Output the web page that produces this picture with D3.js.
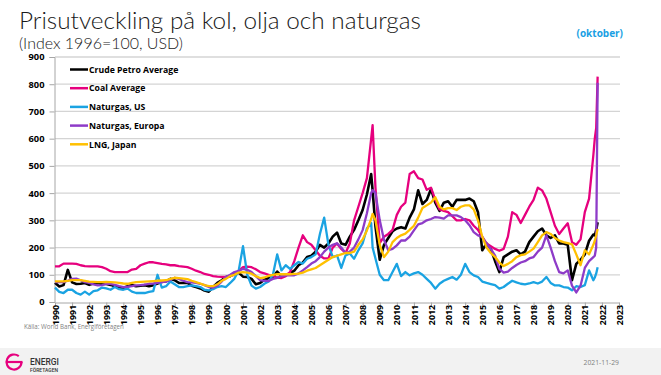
<!DOCTYPE html>
<html><head><meta charset="utf-8">
<script src="https://cdn.jsdelivr.net/npm/d3@7"></script>
<style>
body{margin:0;background:#fff;}
svg{display:block;}
</style></head>
<body>
<svg id="chart" width="661" height="375"></svg>
<script>
// ---------- DATA ----------
const yearTicks = d3.range(1990, 2024);
const yTicks = [0,100,200,300,400,500,600,700,800,900];
// sampling: quarterly (Jan, Apr, Jul, Oct) + Aug 2008, Aug & Sep 2021
const seriesNames = ["Crude Petro Average","Coal Average","Naturgas, US","Naturgas, Europa","LNG, Japan"];
const seriesColors = ["#000000","#e6007e","#1aa3e2","#8e3bc8","#ffc000"];

const crude = [
 71,57,62,118, 72,66,67,70, 63,68,70,66, 66,63,58,52, 52,58,62,58, 60,62,58,62,
 68,74,76,85, 80,70,70,70, 60,55,50,42, 38,55,70,80, 92,95,105,108, 93,92,85,65,
 70,82,88,92, 112,95,100,105, 115,135,145,165, 170,185,210,200, 215,240,255,215,
 210,240,265,300, 338,395,470,410,277, 155,210,235,260, 270,275,270,310,
 340,410,360,375, 415,365,335,365, 370,350,375,375, 375,380,370,330,
 190,215,195,150, 110,165,175,185, 190,175,185,220, 240,260,270,245,
 235,245,215,215, 210,80,140,155, 175,225,248,245,264,293];
const coal = [
 131,131,141,141, 141,140,135,132, 131,131,131,128, 122,113,110,110, 110,110,119,122,
 135,141,146,146, 143,140,138,135, 135,132,130,128, 122,115,110,103, 100,95,93,92,
 92,95,100,115, 128,130,128,120, 110,105,100,95, 90,88,95,110, 150,200,245,220,
 210,190,170,160, 160,200,215,195, 180,215,300,350, 400,455,600,650,420,
 216,240,250,265, 320,350,365,470, 480,455,450,412, 420,375,340,335,
 330,315,300,300, 305,300,280,265, 239,215,205,195, 188,195,240,330,
 320,290,320,350, 375,420,410,380, 330,280,250,270, 289,220,210,230,
 330,380,540,600,640,828];
const gasUS = [
 53,37,33,45, 45,33,27,38, 27,40,43,53, 50,45,55,47, 45,49,38,33, 33,33,37,40,
 100,53,58,75, 65,55,55,58, 61,58,55,45, 43,47,55,58, 55,70,86,116, 205,100,60,49,
 55,67,75,100, 175,116,135,122, 135,147,141,159, 165,175,250,310, 210,165,171,125,
 171,178,159,190, 215,270,290,200,160, 100,80,80,110, 140,95,110,98,
 105,110,100,85, 70,49,67,78, 85,92,82,100, 140,110,98,92,
 75,70,66,62, 49,55,67,78, 72,67,65,68, 73,68,75,92,
 70,61,61,55, 53,43,58,55, 62,116,80,90,105,128];
const gasEU = [
 73,73,73,78, 85,86,80,73, 70,65,61,62, 67,67,63,58, 55,56,58,61, 62,64,67,68,
 70,73,75,82, 89,85,78,73, 72,70,67,62, 55,53,60,75, 92,100,110,114, 122,118,110,95,
 80,78,77,85, 89,95,98,98, 98,105,116,128, 141,150,165,185, 200,210,216,200,
 180,185,200,230, 264,326,400,411,400, 301,228,190,195, 208,226,226,240,
 263,285,290,300, 305,312,310,306, 318,318,318,312, 300,282,257,245,
 239,214,195,170, 122,108,112,125, 136,145,150,160, 165,185,200,245,
 200,150,110,105, 116,60,35,60, 125,150,165,170,200,805];
const lngJP = [
 76,76,76,78, 80,80,80,78, 75,74,73,73, 74,73,72,70, 68,67,70,73, 74,75,76,77,
 78,79,80,85, 89,88,86,84, 78,73,68,62, 58,58,65,78, 85,95,100,108, 110,108,104,95,
 88,90,96,100, 102,102,102,102, 103,104,108,115, 120,125,135,145, 155,165,170,175,
 180,180,185,210, 230,263,305,324,300, 210,165,185,220, 235,245,251,265,
 280,310,345,355, 365,385,350,340, 345,345,338,350, 355,355,340,300,
 240,200,180,165, 145,132,140,150, 165,172,175,185, 196,220,245,257,
 250,235,226,220, 216,212,175,135, 190,175,210,225,245,268];

// ---------- TIME GRID ----------
const dates = [];
for (let yr = 1990; yr <= 2021; yr++) {
  let months = [0,3,6,9];
  if (yr === 2008) months = [0,3,6,7,9];
  if (yr === 2021) months = [0,3,6,7,8,9];
  months.forEach(m => dates.push(yr + m/12));
}
const seriesValues = [crude, coal, gasUS, gasEU, lngJP];

// ---------- DRAW ----------
const svg = d3.select("#chart");
const W = 661, H = 375;
const x = d3.scaleLinear().domain([1990, 2023]).range([55, 619]);
const y = d3.scaleLinear().domain([0, 900]).range([302, 57]);

// footer band
svg.append("rect").attr("x",0).attr("y",348).attr("width",W).attr("height",H-348).attr("fill","#f2f2f2");

// title
function fitText(sel, target){
  const w = sel.node().getComputedTextLength();
  const fs = parseFloat(sel.attr("font-size"));
  sel.attr("font-size", (fs*target/w).toFixed(2));
}
const t1 = svg.append("text").attr("x",19).attr("y",29)
  .attr("font-family","Lato, 'Open Sans', sans-serif").attr("font-weight",300)
  .attr("font-size",26).attr("fill","#1a1a1a").text("Prisutveckling på kol, olja och naturgas");
fitText(t1, 402);
const t2 = svg.append("text").attr("x",19).attr("y",49)
  .attr("font-family","Lato, 'Open Sans', sans-serif").attr("font-weight",300)
  .attr("font-size",16).attr("fill","#1a1a1a").text("(Index 1996=100, USD)");
fitText(t2, 164);
svg.append("text").attr("x",623).attr("y",37).attr("text-anchor","end")
  .attr("font-family","'Open Sans', sans-serif").attr("font-weight",700)
  .attr("font-size",10).attr("fill","#1a9fe3").text("(oktober)");

// gridlines
svg.append("g").selectAll("line").data(yTicks.filter(d=>d>0)).join("line")
  .attr("x1",55).attr("x2",620).attr("y1",d=>y(d)).attr("y2",d=>y(d))
  .attr("stroke","#d4d4d4").attr("stroke-width",1.3);

// axes
const yAxis = svg.append("g").attr("transform","translate(54.5,0)")
  .call(d3.axisLeft(y).tickValues(yTicks).tickSize(5).tickFormat(d3.format("d")));
yAxis.select(".domain").attr("stroke","#a6a6a6");
yAxis.selectAll(".tick line").attr("stroke","#a6a6a6");
yAxis.selectAll("text").attr("font-family","'Open Sans', sans-serif").attr("font-weight",700)
  .attr("font-size",9.3).attr("fill","#000").attr("x",-10);

const xAxis = svg.append("g").attr("transform","translate(0,302.5)")
  .call(d3.axisBottom(x).tickValues(yearTicks).tickSize(4).tickFormat(d3.format("d")));
xAxis.select(".domain").attr("stroke","#a6a6a6");
xAxis.selectAll(".tick line").attr("stroke","#a6a6a6");
xAxis.selectAll("text").attr("font-family","'Open Sans', sans-serif").attr("font-weight",700)
  .attr("font-size",8.8).attr("fill","#000")
  .attr("transform","rotate(-90)").attr("text-anchor","end")
  .attr("x",-2.5).attr("y",0).attr("dy","0.35em");

// series
const line = d3.line().x((d,i)=>x(dates[i])).y(d=>y(d)).curve(d3.curveLinear);
const gS = svg.append("g");
seriesValues.forEach((vals,k)=>{
  gS.append("path").datum(vals).attr("d",line).attr("fill","none")
    .attr("stroke",seriesColors[k]).attr("stroke-width",k===0?2.6:2.3)
    .attr("stroke-linejoin","round");
});

// legend
const lg = svg.append("g");
seriesNames.forEach((n,k)=>{
  const ly = 69.5 + k*18.7;
  lg.append("line").attr("x1",70).attr("x2",88).attr("y1",ly).attr("y2",ly)
    .attr("stroke",seriesColors[k]).attr("stroke-width",2.5);
  lg.append("text").attr("x",89).attr("y",ly+3.2)
    .attr("font-family","'Open Sans', sans-serif").attr("font-weight",700)
    .attr("font-size",8.7).attr("fill","#000").text(n);
});

// source
svg.append("text").attr("x",24).attr("y",329)
  .attr("font-family","'Open Sans', sans-serif").attr("font-size",6.2)
  .attr("fill","#7f7f7f").text("Källa: World Bank, Energiföretagen");

// logo
const lgX = 14, lgY = 362, r = 7.5;
const arc = d3.arc().innerRadius(r-1.1).outerRadius(r+1.1)
  .startAngle(Math.PI/2).endAngle(Math.PI/2 + Math.PI*1.72);
svg.append("path").attr("d",arc()).attr("transform",`translate(${lgX},${lgY})`).attr("fill","#e6007e");
svg.append("line").attr("x1",lgX-r).attr("x2",lgX+r+1).attr("y1",lgY).attr("y2",lgY)
  .attr("stroke","#e6007e").attr("stroke-width",2.2);
svg.append("text").attr("x",30).attr("y",365).attr("font-family","Roboto, sans-serif")
  .attr("font-weight",500).attr("font-size",9.5).attr("fill","#333")
  .attr("textLength",29).attr("lengthAdjust","spacingAndGlyphs").text("ENERGI");
svg.append("text").attr("x",30).attr("y",371.5).attr("font-family","Roboto, sans-serif")
  .attr("font-weight",500).attr("font-size",5).attr("fill","#333")
  .attr("textLength",28).attr("lengthAdjust","spacingAndGlyphs").text("FÖRETAGEN");

// date
svg.append("text").attr("x",619).attr("y",365).attr("text-anchor","end")
  .attr("font-family","'Open Sans', sans-serif").attr("font-size",6.8)
  .attr("fill","#7f7f7f").text("2021-11-29");
</script>
</body></html>
